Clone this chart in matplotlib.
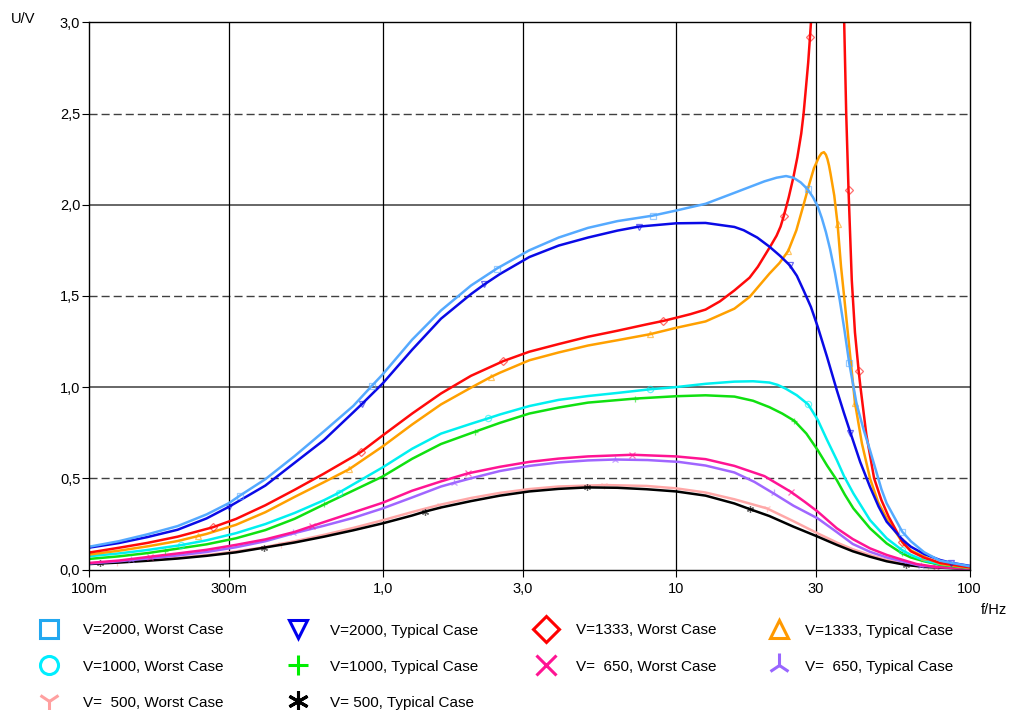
import matplotlib
matplotlib.use('Agg')
import matplotlib.pyplot as plt
from matplotlib.lines import Line2D
from matplotlib.ticker import NullLocator, FixedLocator, FixedFormatter
from matplotlib.colors import to_rgba

plt.rcParams['font.family'] = ['Liberation Sans', 'DejaVu Sans']

# ---------------- data (frequency in Hz, amplitude in V) ----------------
X_TICKS = [0.1, 0.3, 1, 3, 10, 30, 100]
X_TICK_LABELS = ['100m', '300m', '1,0', '3,0', '10', '30', '100']
Y_TICKS = [0.0, 0.5, 1.0, 1.5, 2.0, 2.5, 3.0]
Y_TICK_LABELS = ['0,0', '0,5', '1,0', '1,5', '2,0', '2,5', '3,0']

# V=2000, Worst Case
LB_F = [0.1, 0.126, 0.158, 0.2, 0.251, 0.3, 0.326, 0.398, 0.501, 0.631, 0.794, 0.916, 1.0, 1.26, 1.58,
        2.0, 2.45, 3.16, 3.98, 5.01, 6.31, 8.32, 10, 12.6, 15.8, 20, 22.0, 23.7, 25.1, 26.6, 28.1, 29.3, 30.4,
        31.4, 32.4, 33.5, 34.8, 36.1, 37.5, 38.9, 41.2, 43.5, 45.8, 50.1, 52.2, 59, 63.1, 70, 79.4, 100]
LB_U = [0.125, 0.155, 0.193, 0.238, 0.302, 0.365, 0.405, 0.495, 0.622, 0.758, 0.897, 1.005, 1.07, 1.26, 1.42,
        1.557, 1.65, 1.75, 1.82, 1.873, 1.91, 1.94, 1.968, 2.005, 2.065, 2.128, 2.148, 2.157, 2.148, 2.122, 2.084, 2.04, 1.99,
        1.925, 1.85, 1.755, 1.625, 1.48, 1.31, 1.133, 0.91, 0.77, 0.654, 0.44, 0.363, 0.207, 0.155, 0.095, 0.048, 0.018]
LB_M = [0.326, 0.916, 2.45, 8.32, 28.1, 38.9, 59]

# V=2000, Typical Case
DB_F = [0.1, 0.126, 0.158, 0.2, 0.251, 0.3, 0.398, 0.501, 0.631, 0.794, 0.848, 1.0, 1.26, 1.58, 2.0, 2.22,
        2.51, 3.16, 3.98, 5.01, 6.31, 7.47, 10, 12.6, 15.8, 17.0, 18.9, 20.8, 22.6, 24.4, 25.8, 27.2, 28.8,
        30.4, 32.7, 35.3, 37.3, 39.3, 42.4, 45.8, 49, 52.2, 59.4, 63.1, 70, 79.4, 86.5, 100]
DB_U = [0.12, 0.145, 0.178, 0.218, 0.28, 0.345, 0.46, 0.585, 0.71, 0.862, 0.906, 1.02, 1.205, 1.375, 1.51, 1.563,
        1.62, 1.713, 1.776, 1.82, 1.858, 1.88, 1.898, 1.9, 1.878, 1.86, 1.82, 1.77, 1.72, 1.668, 1.61, 1.53, 1.44,
        1.33, 1.165, 0.983, 0.86, 0.749, 0.59, 0.453, 0.345, 0.262, 0.16, 0.125, 0.085, 0.052, 0.037, 0.02]
DB_M = [0.3, 0.848, 2.22, 7.47, 24.4, 39.3, 86.5]

# V=1333, Worst Case
RD_F = [0.1, 0.126, 0.158, 0.2, 0.263, 0.316, 0.398, 0.501, 0.631, 0.794, 0.844, 1.0, 1.26, 1.58, 2.0,
        2.58, 3.16, 3.98, 5.01, 6.31, 7.94, 9.05, 10, 11.2, 12.6, 14.1, 15.8, 17.8, 19.0, 20.2, 21.1, 22.0,
        22.7, 23.3, 24.2, 25.1, 25.9, 26.7, 27.2, 27.7, 28.2, 28.6, 29.1, 30.0, 31.5, 33.0, 34.5, 36.0,
        36.8, 37.4, 38.0, 38.7, 39.7, 40.7, 41.9, 42.5, 44.5, 47.3, 50.1, 53, 59, 63.1, 70, 79.4, 100]
RD_U = [0.093, 0.119, 0.146, 0.18, 0.231, 0.277, 0.352, 0.437, 0.526, 0.619, 0.645, 0.735, 0.855, 0.965, 1.062,
        1.143, 1.194, 1.236, 1.276, 1.309, 1.344, 1.363, 1.38, 1.40, 1.425, 1.47, 1.53, 1.60, 1.66, 1.73, 1.78, 1.83,
        1.88, 1.94, 2.04, 2.15, 2.26, 2.39, 2.50, 2.64, 2.78, 2.92, 3.1, 3.8, 5.5, 6.5, 5.5, 4.0,
        3.4, 3.0, 2.5, 2.078, 1.586, 1.3, 1.089, 1.0, 0.74, 0.5, 0.38, 0.29, 0.152, 0.1, 0.065, 0.036, 0.012]
RD_M = [0.263, 0.844, 2.58, 9.05, 23.3, 28.6, 38.7, 41.9, 59]

# V=1333, Typical Case
OR_F = [0.1, 0.126, 0.158, 0.2, 0.234, 0.251, 0.316, 0.398, 0.501, 0.631, 0.769, 1.0, 1.26, 1.58, 2.0,
        2.34, 2.51, 3.16, 3.98, 5.01, 6.31, 8.15, 10, 12.6, 15.8, 17.8, 20.8, 22.5, 24.1, 25.7, 27.2, 28.4,
        29.5, 30.7, 31.3, 31.9, 32.4, 32.8, 33.2, 33.6, 34.6, 35.5, 36.5, 37.5, 38.9, 40.2, 40.7, 43.0,
        45.8, 48.8, 52.2, 59.4, 63.1, 70, 80, 100]
OR_U = [0.082, 0.103, 0.127, 0.156, 0.183, 0.195, 0.245, 0.314, 0.398, 0.479, 0.55, 0.675, 0.795, 0.905, 0.997,
        1.056, 1.079, 1.147, 1.19, 1.228, 1.257, 1.29, 1.325, 1.36, 1.43, 1.494, 1.622, 1.68, 1.746, 1.86, 2.0, 2.11,
        2.2, 2.262, 2.282, 2.288, 2.274, 2.25, 2.215, 2.17, 2.05, 1.896, 1.658, 1.476, 1.225, 1.0, 0.914, 0.69,
        0.5, 0.37, 0.28, 0.143, 0.105, 0.07, 0.03, 0.01]
OR_M = [0.234, 0.769, 2.34, 8.15, 24.1, 35.5, 40.7, 70]

# V=1000, Worst Case
CY_F = [0.1, 0.126, 0.158, 0.206, 0.251, 0.316, 0.398, 0.501, 0.631, 0.707, 0.794, 1.0, 1.26, 1.58, 2.0,
        2.28, 2.51, 3.16, 3.98, 5.01, 6.31, 8.15, 10, 12.6, 15.8, 18.3, 20.8, 22.2, 23.6, 25.8, 28.2, 30.4,
        32.7, 35.3, 37.4, 40.2, 45.8, 52.2, 58.8, 63.1, 70, 79.4, 100]
CY_U = [0.073, 0.088, 0.107, 0.134, 0.16, 0.199, 0.249, 0.31, 0.38, 0.42, 0.467, 0.56, 0.662, 0.745, 0.799,
        0.828, 0.85, 0.896, 0.93, 0.951, 0.968, 0.988, 1.0, 1.018, 1.03, 1.032, 1.025, 1.012, 0.992, 0.955, 0.905, 0.82,
        0.71, 0.60, 0.51, 0.417, 0.271, 0.171, 0.107, 0.08, 0.05, 0.03, 0.01]
CY_M = [0.206, 0.707, 2.28, 8.15, 28.2, 58.8]

# V=1000, Typical Case
GR_F = [0.1, 0.126, 0.158, 0.181, 0.251, 0.316, 0.398, 0.501, 0.632, 0.794, 1.0, 1.26, 1.58, 2.06, 2.51,
        3.16, 3.98, 5.01, 7.24, 10, 12.6, 15.8, 18.3, 20.8, 23.0, 25.3, 27.8, 30.4, 32.7, 35.3, 37.6, 40.2,
        45.8, 52.2, 58.8, 63.1, 70, 79.4, 100]
GR_U = [0.058, 0.072, 0.09, 0.104, 0.138, 0.171, 0.216, 0.278, 0.357, 0.433, 0.51, 0.607, 0.688, 0.755, 0.804,
        0.855, 0.888, 0.915, 0.937, 0.95, 0.955, 0.948, 0.925, 0.89, 0.855, 0.815, 0.745, 0.654, 0.57, 0.49, 0.41, 0.335,
        0.226, 0.143, 0.089, 0.066, 0.045, 0.026, 0.008]
GR_M = [0.181, 0.632, 2.06, 7.24, 25.3, 58.8]

# V=650, Worst Case
MG_F = [0.1, 0.126, 0.161, 0.2, 0.251, 0.316, 0.398, 0.501, 0.574, 0.631, 0.794, 1.0, 1.26, 1.58, 1.95,
        2.51, 3.16, 3.98, 5.01, 7.1, 10, 12.6, 15.8, 20, 24.6, 27.5, 30.4, 35.3, 40, 45.8, 52.2, 59.4, 66,
        76.7, 100]
MG_U = [0.036, 0.049, 0.07, 0.088, 0.108, 0.135, 0.165, 0.206, 0.238, 0.26, 0.313, 0.366, 0.432, 0.483, 0.527,
        0.563, 0.59, 0.608, 0.62, 0.629, 0.62, 0.605, 0.568, 0.512, 0.426, 0.37, 0.317, 0.226, 0.167, 0.116, 0.08, 0.052, 0.03,
        0.014, 0.005]
MG_M = [0.161, 0.574, 1.95, 7.1, 24.6, 76.7]

# V=650, Typical Case
PU_F = [0.1, 0.126, 0.139, 0.158, 0.2, 0.251, 0.316, 0.398, 0.496, 0.631, 0.794, 1.0, 1.26, 1.58, 1.75,
        2.0, 2.51, 3.16, 3.98, 5.01, 6.2, 8, 10.2, 12.6, 15.8, 18.5, 21.5, 25.1, 30.4, 35.3, 40, 45.8, 52.2,
        59.4, 68.3, 100]
PU_U = [0.033, 0.045, 0.052, 0.06, 0.077, 0.096, 0.122, 0.155, 0.198, 0.24, 0.283, 0.335, 0.395, 0.455, 0.475,
        0.5, 0.54, 0.568, 0.587, 0.598, 0.603, 0.6, 0.59, 0.57, 0.532, 0.48, 0.417, 0.35, 0.28, 0.205, 0.14, 0.097, 0.066,
        0.043, 0.02, 0.004]
PU_M = [0.139, 0.496, 1.75, 6.2, 21.5, 68.3]

# V=500, Worst Case
PK_F = [0.1, 0.124, 0.158, 0.2, 0.251, 0.316, 0.398, 0.45, 0.501, 0.631, 0.794, 1.0, 1.26, 1.57, 2.0,
        2.51, 3.16, 3.98, 5.7, 7.94, 10, 12.6, 15.8, 20.4, 25.1, 30.4, 35.3, 40, 45.8, 52.2, 60, 72, 100]
PK_U = [0.032, 0.041, 0.051, 0.063, 0.079, 0.099, 0.123, 0.141, 0.155, 0.19, 0.228, 0.27, 0.315, 0.355, 0.392,
        0.42, 0.441, 0.455, 0.463, 0.458, 0.445, 0.422, 0.385, 0.335, 0.265, 0.198, 0.148, 0.111, 0.079, 0.052, 0.03, 0.015, 0.004]
PK_M = [0.124, 0.45, 1.57, 5.7, 20.4, 72]

# V=500, Typical Case
BK_F = [0.1, 0.109, 0.126, 0.158, 0.2, 0.251, 0.316, 0.395, 0.501, 0.631, 0.794, 1.0, 1.26, 1.39, 1.58,
        2.0, 2.51, 3.16, 3.98, 4.98, 6.31, 7.94, 10, 12.6, 15.8, 17.9, 20.8, 25.1, 30.4, 35.3, 40, 45.8,
        52.2, 60.8, 70, 100]
BK_U = [0.03, 0.033, 0.038, 0.048, 0.06, 0.075, 0.094, 0.12, 0.148, 0.18, 0.215, 0.253, 0.296, 0.317, 0.34,
        0.375, 0.405, 0.428, 0.442, 0.45, 0.448, 0.44, 0.428, 0.405, 0.362, 0.33, 0.293, 0.235, 0.18, 0.135, 0.1, 0.07,
        0.045, 0.025, 0.014, 0.003]
BK_M = [0.109, 0.395, 1.39, 4.98, 17.9, 60.8]

LABELS = ['V=2000, Worst Case', 'V=2000, Typical Case', 'V=1333, Worst Case', 'V=1333, Typical Case',
          'V=1000, Worst Case', 'V=1000, Typical Case', 'V=  650, Worst Case', 'V=  650, Typical Case',
          'V=  500, Worst Case', 'V= 500, Typical Case']

# ---------------- styles ----------------
COLORS = ['#55aaff', '#0a0ae6', '#ff0a0a', '#ffa000', '#00f0f0', '#10e010', '#ff1493', '#a066ff',
          '#ffa8a8', '#000000']
LEG_COLORS = ['#22a8f0', '#0000ee', '#ff0000', '#ff9900', '#00eeff', '#00ee00', '#ff1493', '#9966ff',
              '#ffa0a0', '#000000']
MARKERS = ['s', 'v', 'D', '^', 'o', '+', 'x', '2', '1', (6, 2, 0)]
SMALL_MS = [4.5, 4.5, 3.6, 4.5, 4.5, 5.0, 5.0, 6.0, 6.0, 5.0]
LEG_MS = [13, 13, 13.5, 13, 13, 15, 14, 17, 17, 15]

series = [(LB_F, LB_U, LB_M), (DB_F, DB_U, DB_M), (RD_F, RD_U, RD_M), (OR_F, OR_U, OR_M),
          (CY_F, CY_U, CY_M), (GR_F, GR_U, GR_M), (MG_F, MG_U, MG_M), (PU_F, PU_U, PU_M),
          (PK_F, PK_U, PK_M), (BK_F, BK_U, BK_M)]
DRAW_ORDER = [8, 9, 7, 6, 5, 4, 3, 2, 1, 0]

W, H = 1013, 710
fig = plt.figure(figsize=(W / 100, H / 100), dpi=100)
L, R, T, B = 89.3, 969.5, 22.3, 569.5
ax = fig.add_axes([L / W, 1 - B / H, (R - L) / W, (B - T) / H])
ax.set_xscale('log')
ax.set_xlim(0.1, 100)
ax.set_ylim(0, 3)

# grid
for y in [1.0, 2.0]:
    ax.axhline(y, color='#5a5a5a', lw=1.3, zorder=1)
for y in [0.5, 1.5, 2.5]:
    ax.axhline(y, color='#404040', lw=1.0, ls=(0, (5.8, 2.9)), zorder=1)
for x in X_TICKS[1:-1]:
    ax.axvline(x, color='black', lw=0.9, zorder=1)

for z, i in enumerate(DRAW_ORDER):
    F, U, M = series[i]
    idx = [F.index(m) for m in M]
    mec = to_rgba(COLORS[i], 0.6)
    ax.plot(F, U, color=COLORS[i], lw=1.8, marker=MARKERS[i], ms=SMALL_MS[i], mfc='none',
            mec=mec, mew=0.9, markevery=idx, zorder=3 + z, solid_joinstyle='round',
            solid_capstyle='round')

ax.xaxis.set_major_locator(FixedLocator(X_TICKS))
ax.xaxis.set_major_formatter(FixedFormatter(X_TICK_LABELS))
ax.xaxis.set_minor_locator(NullLocator())
ax.set_yticks(Y_TICKS)
ax.set_yticklabels(Y_TICK_LABELS)
ax.tick_params(axis='both', direction='out', length=5, width=0.8, labelsize=10.5, colors='black')
ax.tick_params(axis='y', pad=1.5)
ax.tick_params(axis='x', pad=4)
for s in ax.spines.values():
    s.set_color('black')
    s.set_linewidth(1.0)
    s.set_zorder(20)

fig.text(11 / W, 1 - 19 / H, 'U/V', ha='left', va='center', fontsize=10.5)
fig.text(981 / W, 1 - 610 / H, 'f/Hz', ha='left', va='center', fontsize=10.5)

# legend: four columns
handles = [Line2D([], [], ls='none', marker=MARKERS[i], ms=LEG_MS[i], mfc='none', mec=LEG_COLORS[i],
                  mew=2.2) for i in range(10)]
columns = [[0, 4, 8], [1, 5, 9], [2, 6], [3, 7]]
marker_cx = [48.5, 298, 545.5, 779]
text_gap = [34.5, 32, 30.5, 26]
fs = 11
fs_px = fs * 100 / 72
hl = 2.0
for col, cx, gap in zip(columns, marker_cx, text_gap):
    x0 = cx - hl * fs_px / 2
    pad = (gap - hl * fs_px / 2) / fs_px
    fig.legend([handles[i] for i in col], [LABELS[i] for i in col], loc='upper left',
               bbox_to_anchor=(x0 / W, 1 - 623.5 / H), frameon=False, fontsize=fs,
               handlelength=hl, handletextpad=pad, labelspacing=1.45, borderpad=0,
               borderaxespad=0)

fig.savefig('out.png', dpi=100)
